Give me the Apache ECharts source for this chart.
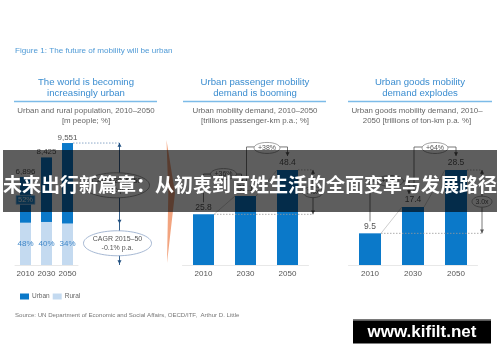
<!DOCTYPE html>
<html><head><meta charset="utf-8">
<script src="https://cdn.jsdelivr.net/npm/echarts@6/dist/echarts.min.js"></script>
<style>html,body{margin:0;padding:0;background:#fff}#c{width:500px;height:362px}</style>
</head><body><div id="c"></div>
<script>
// ---- data ----
const years = ['2010', '2030', '2050'];
const popTotals = [6896, 8425, 9551];
const urbanPop = [3586, 5055, 6304];
const ruralPop = [3310, 3370, 3247];
const ruralShare = ['48%', '40%', '34%'];
const urbanShareVisible = ['52%'];
const popCagr = ['CAGR 2015–50\n1.4% p.a.', 'CAGR 2015–50\n-0.1% p.a.'];
const passengerDemand = [25.8, 35.1, 48.4];
const passengerGrowth = ['+36%', '+38%'];
const passengerMultiple = '1.9x';
const goodsDemand = [9.5, 17.4, 28.5];
const goodsGrowth = ['+83%', '+64%'];
const goodsMultiple = '3.0x';
const legendNames = ['Urban', 'Rural'];
const figureTitle = 'Figure 1: The future of mobility will be urban';
const panelTitles = ['The world is becoming\nincreasingly urban', 'Urban passenger mobility\ndemand is booming', 'Urban goods mobility\ndemand explodes'];
const panelSubtitles = ['Urban and rural population, 2010–2050\n[m people; %]', 'Urban mobility demand, 2010–2050\n[trillions passenger-km p.a.; %]', 'Urban goods mobility demand, 2010–\n2050 [trillions of ton-km p.a. %]'];
const sourceText = 'Source: UN Department of Economic and Social Affairs, OECD/ITF,  Arthur D. Little';
const bannerText = '未来出行新篇章：从初衷到百姓生活的全面变革与发展路径';
const watermarkText = 'www.kifilt.net';

// ---- style ----
const FONT = '"Liberation Sans", Arial, sans-serif';
const BLUE = '#0b79c9', LIGHT = '#c4daf0';
const grids = [
  {left: 15, top: 137.3, width: 63, height: 127.7},
  {left: 182.5, top: 166.8, width: 126, height: 98.2},
  {left: 348.5, top: 165, width: 129, height: 100}
];
const yMax = [10000, 50, 30];
const barW = [11, 21, 22];

const chart = echarts.init(document.getElementById('c'), null, {renderer: 'canvas'});
chart.setOption({
  animation: false,
  backgroundColor: '#fff',
  grid: grids,
  xAxis: grids.map((g, i) => ({type: 'category', gridIndex: i, data: years,
    axisTick: {show: false}, axisLine: {show: true, lineStyle: {color: '#e8e8e8', width: 1}},
    axisLabel: {interval: 0, color: '#555', fontSize: 8, margin: 5, fontFamily: FONT}})),
  yAxis: grids.map((g, i) => ({type: 'value', gridIndex: i, min: 0, max: yMax[i], show: false})),
  legend: {data: legendNames, left: 15, top: 288, itemWidth: 9, itemHeight: 6, itemGap: 3, icon: 'rect',
    selectedMode: false, textStyle: {fontSize: 6.5, color: '#666', fontFamily: FONT, padding: [0, 0, 0, -2]}},
  series: [
    {name: 'Rural', type: 'bar', stack: 'pop', xAxisIndex: 0, yAxisIndex: 0, data: ruralPop, barWidth: barW[0],
      itemStyle: {color: LIGHT},
      label: {show: true, position: 'inside', formatter: p => ruralShare[p.dataIndex], color: '#3f87c9', fontSize: 8, fontFamily: FONT}},
    {name: 'Urban', type: 'bar', stack: 'pop', xAxisIndex: 0, yAxisIndex: 0, data: urbanPop, barWidth: barW[0],
      itemStyle: {color: BLUE},
      label: {show: true, position: 'top', distance: 1.5, formatter: p => popTotals[p.dataIndex].toLocaleString('en-US'), color: '#555', fontSize: 8, fontFamily: FONT}},
    {name: 'Passenger', type: 'bar', xAxisIndex: 1, yAxisIndex: 1, data: passengerDemand, barWidth: barW[1],
      itemStyle: {color: BLUE},
      label: {show: true, position: 'top', distance: 2.5, color: '#555', fontSize: 8.5, fontFamily: FONT}},
    {name: 'Goods', type: 'bar', xAxisIndex: 2, yAxisIndex: 2, data: goodsDemand, barWidth: barW[2],
      itemStyle: {color: BLUE},
      label: {show: true, position: 'top', distance: 2.5, color: '#555', fontSize: 8.5, fontFamily: FONT}}
  ]
});

// ---- annotations ----
const els = [];
const px = (g, i, v) => chart.convertToPixel({gridIndex: g}, [i, v]);
const line = (pts, o = {}) => els.push({type: 'polyline', silent: true, z: o.z || 5,
  shape: {points: pts}, style: {stroke: o.c || '#555', lineWidth: o.w || 0.8, lineDash: o.dash || null, fill: null}});
const tri = (x, y, dir, c) => {
  const s = 2, h = 3.8;
  const pts = dir === 'down' ? [[x - s, y - h], [x + s, y - h], [x, y]] : [[x - s, y + h], [x + s, y + h], [x, y]];
  els.push({type: 'polygon', silent: true, z: 5, shape: {points: pts}, style: {fill: c || '#555'}});
};
const oval = (cx, cy, rx, ry, t, o = {}) => {
  els.push({type: 'ellipse', silent: true, z: 6, shape: {cx, cy, rx, ry}, style: {fill: '#fff', stroke: o.stroke || '#8a8a8a', lineWidth: 0.8}});
  els.push({type: 'text', silent: true, z: 7, x: cx, y: cy, style: {text: t, fill: o.color || '#555', fontSize: o.fs || 7,
    fontFamily: FONT, align: 'center', verticalAlign: 'middle', lineHeight: o.lh || 9}});
};
const txt = (x, y, t, fs, color, o = {}) => els.push({type: 'text', silent: true, z: o.z || 10, x, y,
  style: {text: t, fill: color, fontSize: fs, fontFamily: o.ff || FONT, fontWeight: o.fw || 'normal',
    align: o.align || 'left', verticalAlign: 'middle', lineHeight: o.lh || fs * 1.3}});

// header texts
txt(15, 51, figureTitle, 8.1, '#4f9ad6');
const tCx = [86, 255, 420], sCx = [86, 255, 417];
const ul = [[14, 157], [183, 326], [348, 492]];
panelTitles.forEach((t, i) => txt(tCx[i], 87.5, t, 9.6, '#3b8dd0', {align: 'center', lh: 11}));
panelSubtitles.forEach((t, i) => txt(sCx[i], 115.5, t, 7.9, '#666', {align: 'center', lh: 9.8}));
ul.forEach(u => line([[u[0], 101.5], [u[1], 101.5]], {c: '#7cbbe8', w: 1.6}));
txt(15, 315, sourceText, 6.1, '#777');

// separator
els.push({type: 'polygon', silent: true, z: 3, shape: {points: [[166.5, 140], [175, 193], [167, 263], [168.3, 193]]}, style: {fill: '#f2a47f'}});

// panel 1
{
  const top = px(0, 2, urbanPop[2] + ruralPop[2]);
  const bnd = px(0, 2, ruralPop[2]);
  const base = px(0, 2, 0);
  const vx = top[0] + 52;
  line([[top[0] + barW[0] / 2, top[1]], [vx, top[1]]], {c: '#6f93bb', dash: [1.5, 1.5]});
  line([[vx, top[1]], [vx, base[1]]], {c: '#1f4f80', w: 0.9});
  tri(vx, top[1], 'up', '#1f4f80');
  tri(vx, bnd[1], 'down', '#1f4f80');
  tri(vx, base[1] - 1, 'down', '#1f4f80');
  oval(vx - 3, (top[1] + bnd[1]) / 2 + 2, 33, 12.5, popCagr[0], {stroke: '#8a8a8a', fs: 7});
  oval(vx - 2, (bnd[1] + base[1]) / 2 - 1, 34, 12.5, popCagr[1], {stroke: '#8fa6c8', fs: 7});
  const m = px(0, 0, ruralPop[0] + urbanPop[0] / 2);
  els.push({type: 'rect', silent: true, z: 5, shape: {x: m[0] - 9.5, y: m[1] - 4.5, width: 19, height: 9}, style: {fill: '#1b87d1', stroke: '#a9d2f2', lineWidth: 0.8}});
  txt(m[0], m[1], urbanShareVisible[0], 7.5, '#e6f2fc', {align: 'center', z: 6});
}

// panels 2 & 3
function growthPanel(g, vals, growth, mult, o) {
  const bw = barW[g];
  const c = vals.map((v, i) => px(g, i, v));
  line([[c[0][0] + bw / 2, c[0][1]], [c[1][0] - bw / 2, c[1][1]]], {c: '#b8b8b8', w: 0.7});
  line([[c[1][0] + bw / 2, c[1][1]], [c[2][0] - bw / 2, c[2][1]]], {c: '#b8b8b8', w: 0.7});
  const gx = c[2][0] + bw / 2 + 15;
  line([[c[0][0] + bw / 2, c[0][1]], [gx, c[0][1]]], {c: '#999', dash: [1.5, 1.5], z: 4});
  line([[c[2][0] + bw / 2, c[2][1]], [gx, c[2][1]]], {c: '#999', dash: [1.5, 1.5], z: 4});
  line([[gx, c[2][1]], [gx, c[0][1]]], {c: '#555'});
  tri(gx, c[2][1], 'up');
  tri(gx, c[0][1], 'down');
  oval(gx, (c[0][1] + c[2][1]) / 2, 10, 5.5, mult);
  const yA = c[1][1] - o.lowGap;
  const x1a = c[1][0] - 4;
  line([[c[0][0], c[0][1] - 12], [c[0][0], yA], [x1a, yA], [x1a, c[1][1] - 13]]);
  tri(x1a, c[1][1] - 13, 'down');
  oval((c[0][0] + x1a) / 2 + 1, yA, 13, 5.5, growth[0]);
  const yB = c[2][1] - 23;
  const x1b = c[1][0] + 1;
  line([[x1b, c[1][1] - 13], [x1b, yB], [c[2][0], yB], [c[2][0], c[2][1] - 14]]);
  tri(c[2][0], c[2][1] - 14, 'down');
  oval((x1b + c[2][0]) / 2, yB + 1, 13, 5.5, growth[1]);
}
growthPanel(1, passengerDemand, passengerGrowth, passengerMultiple, {lowGap: 22});
growthPanel(2, goodsDemand, goodsGrowth, goodsMultiple, {lowGap: 26});

// banner overlay
els.push({type: 'rect', silent: true, z: 50, shape: {x: 3, y: 150, width: 494, height: 62}, style: {fill: 'rgba(0,0,0,0.63)'}});
els.push({type: 'text', silent: true, z: 51, x: 250, y: 185, style: {text: bannerText, fill: '#fff', fontSize: 19,
  fontWeight: 'bold', fontFamily: '"Noto Sans CJK SC", sans-serif', align: 'center', verticalAlign: 'middle'}});

// watermark
els.push({type: 'rect', silent: true, z: 60, shape: {x: 353, y: 319.5, width: 138, height: 24}, style: {fill: '#000'}});
els.push({type: 'rect', silent: true, z: 61, shape: {x: 353, y: 319.5, width: 138, height: 1.2}, style: {fill: '#777'}});
els.push({type: 'text', silent: true, z: 62, x: 422, y: 332, style: {text: watermarkText, fill: '#fff', fontSize: 17,
  fontWeight: 'bold', fontFamily: FONT, align: 'center', verticalAlign: 'middle'}});

chart.setOption({graphic: {elements: els}});
</script></body></html>
